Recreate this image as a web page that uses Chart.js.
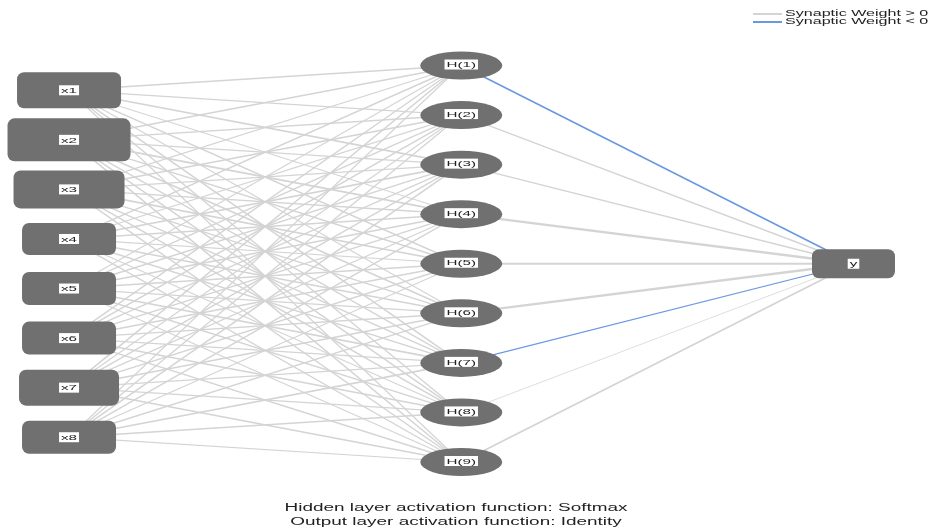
<!DOCTYPE html>
<html>
<head>
<meta charset="utf-8">
<script src="https://cdn.jsdelivr.net/npm/chart.js@4.4.1/dist/chart.umd.min.js"></script>
<style>
  body { margin: 0; background: #fff; }
  #wrap { width: 929px; height: 530px; position: relative; }
</style>
</head>
<body>
<div id="wrap"><canvas id="netChart"></canvas></div>
<script>
// network layout: layer index on x, node slot on y
const inputLabels = ['x1', 'x2', 'x3', 'x4', 'x5', 'x6', 'x7', 'x8'];
const hiddenLabels = ['H(1)', 'H(2)', 'H(3)', 'H(4)', 'H(5)', 'H(6)', 'H(7)', 'H(8)', 'H(9)'];
const outputLabels = ['y'];

const inputSlots = [1.5, 2.5, 3.5, 4.5, 5.5, 6.5, 7.5, 8.5];
const hiddenSlots = [1, 2, 3, 4, 5, 6, 7, 8, 9];
const outputSlots = [5];

// synaptic weights (estimated from line thickness / colour)
const ihWeights = [
  [0.5, 0.4, 0.6, 0.3, 0.5, 0.4, 0.6, 0.5, 0.4],
  [0.6, 0.5, 0.4, 0.7, 0.5, 0.6, 0.4, 0.5, 0.6],
  [0.4, 0.6, 0.5, 0.5, 0.7, 0.4, 0.5, 0.6, 0.5],
  [0.5, 0.4, 0.6, 0.5, 0.4, 0.6, 0.5, 0.4, 0.5],
  [0.4, 0.5, 0.5, 0.6, 0.5, 0.4, 0.6, 0.5, 0.4],
  [0.5, 0.6, 0.4, 0.5, 0.6, 0.5, 0.4, 0.6, 0.5],
  [0.6, 0.4, 0.5, 0.4, 0.5, 0.6, 0.5, 0.4, 0.6],
  [0.4, 0.5, 0.6, 0.5, 0.4, 0.5, 0.6, 0.5, 0.4]
];
const hoWeights = [-0.6, 0.5, 0.5, 1.0, 0.8, 1.0, -0.35, 0.15, 0.8];

const footerLines = [
  'Hidden layer activation function: Softmax',
  'Output layer activation function: Identity'
];
const legendLabels = ['Synaptic Weight > 0', 'Synaptic Weight < 0'];

// styles
const posColor = '#d4d4d4';
const negColor = '#6a98e0';
const nodeColor = '#707070';
const inputBoxW = [104, 123, 111, 94, 94, 94, 100, 94];
const inputBoxH = [36, 43, 38, 32, 33, 33, 36, 33];

function lineWidthFor(w) {
  return 0.5 + Math.abs(w) * 1.8;
}

const datasets = [];
inputLabels.forEach((_, i) => {
  hiddenLabels.forEach((_, j) => {
    const w = ihWeights[i][j];
    datasets.push({
      data: [{ x: 0, y: inputSlots[i] }, { x: 1, y: hiddenSlots[j] }],
      borderColor: w > 0 ? posColor : negColor,
      borderWidth: lineWidthFor(w)
    });
  });
});
hiddenLabels.forEach((_, j) => {
  const w = hoWeights[j];
  datasets.push({
    data: [{ x: 1, y: hiddenSlots[j] }, { x: 2, y: outputSlots[0] }],
    borderColor: w > 0 ? posColor : negColor,
    borderWidth: lineWidthFor(w)
  });
});

let sx = 1.89;
function stretchText(ctx, text, x, y) {
  ctx.save();
  ctx.translate(x, y);
  ctx.scale(sx, 1);
  ctx.fillText(text, 0, 0);
  ctx.restore();
}

function roundBox(ctx, cx, cy, w, h, r) {
  ctx.beginPath();
  ctx.roundRect(cx - w / 2, cy - h / 2, w, h, r);
  ctx.fill();
}

function nodeLabel(ctx, text, cx, cy) {
  ctx.font = '8px "Liberation Sans", Arial, sans-serif';
  const tw = ctx.measureText(text).width * sx;
  ctx.fillStyle = '#fff';
  ctx.fillRect(cx - tw / 2 - 2, cy - 5, tw + 4, 10);
  ctx.fillStyle = '#222';
  ctx.textAlign = 'center';
  ctx.textBaseline = 'middle';
  stretchText(ctx, text, cx, cy + 0.5);
}

const nodesPlugin = {
  id: 'nodes',
  afterDatasetsDraw(chart) {
    const ctx = chart.ctx;
    const xs = chart.scales.x, ys = chart.scales.y;
    ctx.save();
    inputLabels.forEach((lab, i) => {
      const cx = xs.getPixelForValue(0), cy = ys.getPixelForValue(inputSlots[i]);
      ctx.fillStyle = nodeColor;
      roundBox(ctx, cx, cy, inputBoxW[i], inputBoxH[i], 7);
      nodeLabel(ctx, lab, cx, cy);
    });
    hiddenLabels.forEach((lab, j) => {
      const cx = xs.getPixelForValue(1), cy = ys.getPixelForValue(hiddenSlots[j]);
      ctx.fillStyle = nodeColor;
      ctx.beginPath();
      ctx.ellipse(cx, cy, 41, 14, 0, 0, Math.PI * 2);
      ctx.fill();
      nodeLabel(ctx, lab, cx, cy - 1);
    });
    outputLabels.forEach((lab, k) => {
      const cx = xs.getPixelForValue(2), cy = ys.getPixelForValue(outputSlots[k]);
      ctx.fillStyle = nodeColor;
      roundBox(ctx, cx, cy, 83, 29, 7);
      nodeLabel(ctx, lab, cx, cy);
    });

    // legend
    ctx.lineWidth = 2;
    [posColor, negColor].forEach((c, k) => {
      const y = 14 + k * 8;
      ctx.strokeStyle = c;
      ctx.beginPath();
      ctx.moveTo(753, y);
      ctx.lineTo(782, y);
      ctx.stroke();
      ctx.fillStyle = '#222';
      ctx.font = '8.5px "Liberation Sans", Arial, sans-serif';
      ctx.textAlign = 'left';
      ctx.textBaseline = 'middle';
      stretchText(ctx, legendLabels[k], 785, y);
    });

    // footer
    ctx.fillStyle = '#222';
    ctx.font = '10px "Liberation Sans", Arial, sans-serif';
    ctx.textAlign = 'center';
    ctx.textBaseline = 'middle';
    footerLines.forEach((t, k) => stretchText(ctx, t, 456, 508 + k * 14));
    ctx.restore();
  }
};

const ctx = document.getElementById('netChart').getContext('2d');
ctx.font = '10px "Liberation Sans", Arial, sans-serif';
sx = 343 / ctx.measureText(footerLines[0]).width;

new Chart(ctx, {
  type: 'scatter',
  data: { datasets: datasets },
  options: {
    responsive: true,
    maintainAspectRatio: false,
    animation: false,
    showLine: true,
    layout: { padding: 0 },
    elements: { point: { radius: 0, hoverRadius: 0 }, line: { tension: 0 } },
    scales: {
      x: { type: 'linear', display: false, min: -0.176, max: 2.1925 },
      y: { type: 'linear', display: false, reverse: true, min: -0.3216, max: 10.372 }
    },
    plugins: { legend: { display: false }, tooltip: { enabled: false } }
  },
  plugins: [nodesPlugin]
});
</script>
</body>
</html>
